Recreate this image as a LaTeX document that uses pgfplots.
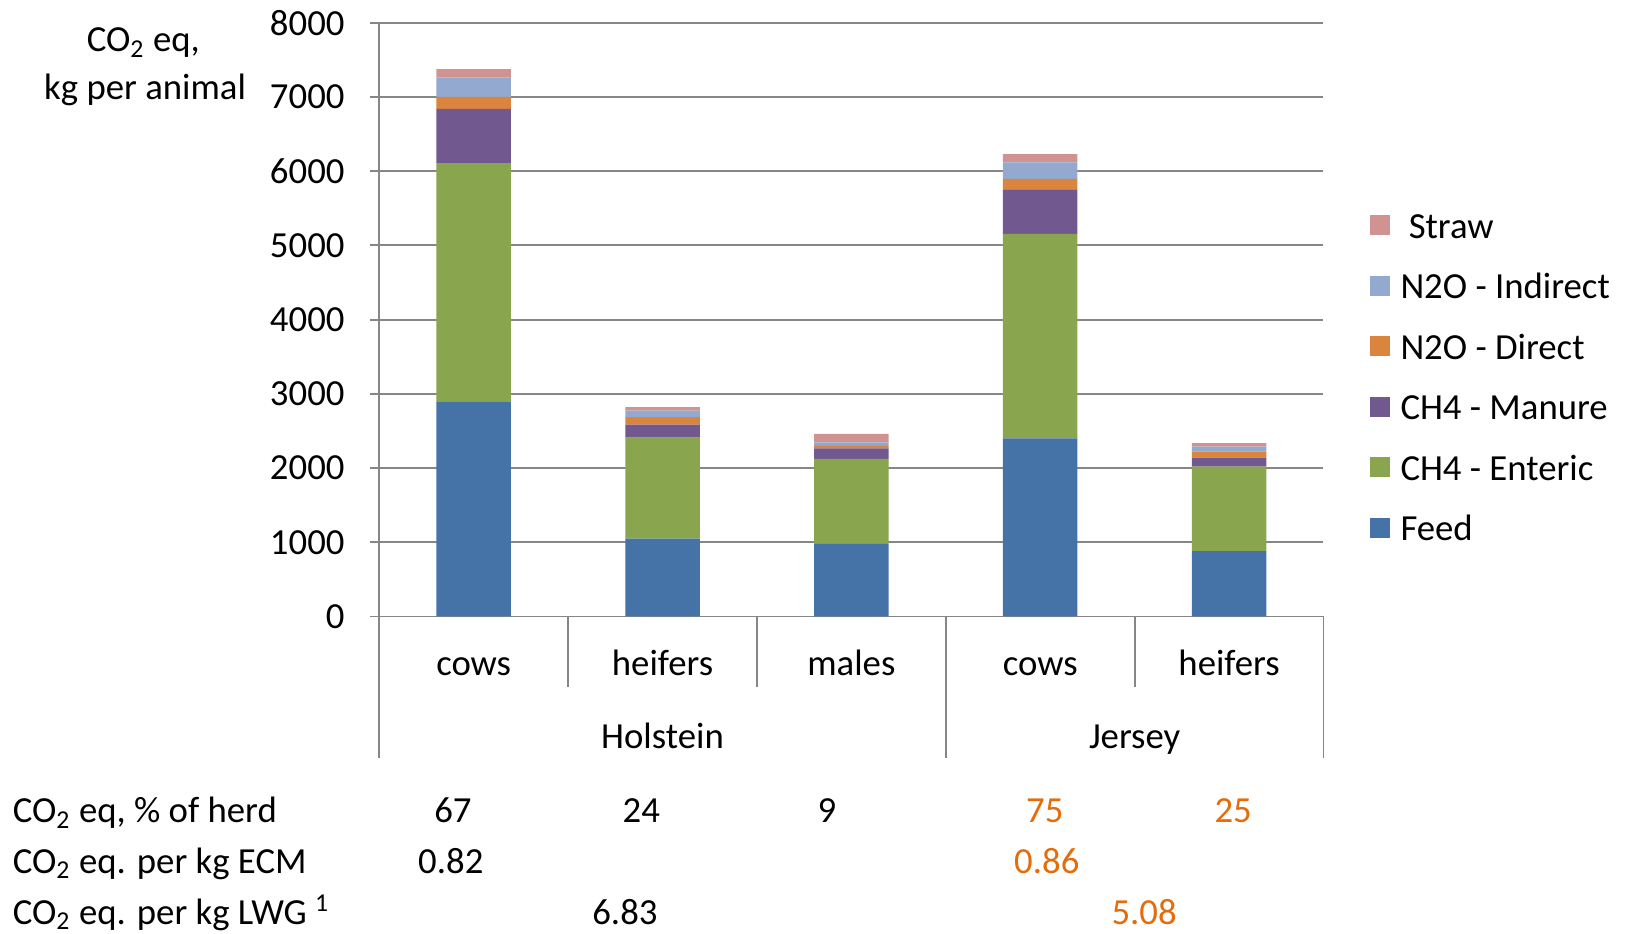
\documentclass[border=0pt]{standalone}
\usepackage{pgfplots}
\pgfplotsset{compat=1.18}
\usepackage{pgfplotstable}
\usepackage{fontspec}
\setmainfont{Carlito}

\definecolor{feed}{HTML}{4572A7}
\definecolor{enteric}{HTML}{89A54E}
\definecolor{manure}{HTML}{71588F}
\definecolor{ndirect}{HTML}{DB843D}
\definecolor{nindirect}{HTML}{93A9CF}
\definecolor{straw}{HTML}{D19392}
\definecolor{gridgray}{HTML}{868686}
\definecolor{jersey}{HTML}{E46C0A}

% CO2 eq per animal (kg) by source; 0-2 Holstein cows/heifers/males, 3-4 Jersey cows/heifers
\pgfplotstableread{
cat feed enteric manure ndir nind straw
0   2900 3210    730    160  265  110
1   1050 1360    175    100  90   45
2   980  1145    140    35   45   115
3   2400 2755    600    140  225  110
4   880  1140    120    80   70   45
}\emissions

\begin{document}
\begin{tikzpicture}[font=\fontsize{14.7pt}{17.6pt}\selectfont]
\useasboundingbox (-151.7pt,-127.0pt) rectangle (498.3pt,246.6pt);
\begin{axis}[
  at={(0,0)}, anchor=south west,
  scale only axis, width=377.7pt, height=237.5pt,
  xmin=-0.5, xmax=4.5, ymin=0, ymax=8000,
  ybar stacked, bar width=29.8pt,
  clip=false,
  axis x line=bottom, axis y line=left,
  axis line style={gridgray, line width=0.75pt, -},
  xtick=\empty,
  ytick={0,1000,2000,3000,4000,5000,6000,7000,8000},
  yticklabels={0,1000,2000,3000,4000,5000,6000,7000,8000},
  tick align=outside, major tick length=3.7pt,
  y tick style={gridgray, line width=0.75pt},
  yticklabel style={inner sep=0pt, xshift=-10pt},
  ymajorgrids, grid style={gridgray, line width=0.75pt},
  reverse legend,
  legend cell align=left,
  legend style={draw=none, fill=none, inner sep=0pt,
    at={(1.0482,0.680)}, anchor=north west,
    row sep=11.2pt,
    nodes={inner sep=0pt, text height=10pt, text depth=3pt}},
  legend image code/.code={%
    \fill[#1] (0pt,-2.3pt) rectangle (8pt,5.7pt);
    \path (12.4pt,0pt);},
]
\addplot[fill=feed, draw=none] table[x=cat, y=feed]{\emissions};
\addlegendentry{Feed}
\addplot[fill=enteric, draw=none] table[x=cat, y=enteric]{\emissions};
\addlegendentry{CH4 - Enteric}
\addplot[fill=manure, draw=none] table[x=cat, y=manure]{\emissions};
\addlegendentry{CH4 - Manure}
\addplot[fill=ndirect, draw=none] table[x=cat, y=ndir]{\emissions};
\addlegendentry{N2O - Direct}
\addplot[fill=nindirect, draw=none] table[x=cat, y=nind]{\emissions};
\addlegendentry{N2O - Indirect}
\addplot[fill=straw, draw=none] table[x=cat, y=straw]{\emissions};
\addlegendentry{\ Straw}

% category frame below the axis
\draw[gridgray, line width=0.75pt]
  (axis cs:0.5,0) -- (axis cs:0.5,-950)
  (axis cs:1.5,0) -- (axis cs:1.5,-950)
  (axis cs:3.5,0) -- (axis cs:3.5,-950)
  (axis cs:-0.5,0) -- (axis cs:-0.5,-1900)
  (axis cs:2.5,0) -- (axis cs:2.5,-1900)
  (axis cs:4.5,0) -- (axis cs:4.5,-1900);

\node[anchor=base] at (axis cs:0,-796) {cows};
\node[anchor=base] at (axis cs:1,-796) {heifers};
\node[anchor=base] at (axis cs:2,-796) {males};
\node[anchor=base] at (axis cs:3,-796) {cows};
\node[anchor=base] at (axis cs:4,-796) {heifers};
\node[anchor=base] at (axis cs:1,-1774) {Holstein};
\node[anchor=base] at (axis cs:3.5,-1774) {Jersey};

% y-axis title
\node[anchor=base] at (axis cs:-1.749,7611) {CO\textsubscript{2} eq,};
\node[anchor=base] at (axis cs:-1.74,6960) {kg per animal};

% summary rows
\node[anchor=base west, inner sep=0pt] at (axis cs:-2.443,-2780) {CO\textsubscript{2} eq, \% of herd};
\node[anchor=base west, inner sep=0pt] at (axis cs:-2.443,-3464) {CO\textsubscript{2} eq. per kg ECM};
\node[anchor=base west, inner sep=0pt] at (axis cs:-2.443,-4148) {CO\textsubscript{2} eq. per kg LWG \textsuperscript{1}};

\node[anchor=base] at (axis cs:-0.110,-2780) {67};
\node[anchor=base] at (axis cs:0.888,-2780) {24};
\node[anchor=base] at (axis cs:1.871,-2780) {9};
\node[anchor=base, text=jersey] at (axis cs:3.024,-2780) {75};
\node[anchor=base, text=jersey] at (axis cs:4.022,-2780) {25};
\node[anchor=base] at (axis cs:-0.121,-3464) {0.82};
\node[anchor=base, text=jersey] at (axis cs:3.035,-3464) {0.86};
\node[anchor=base] at (axis cs:0.801,-4148) {6.83};
\node[anchor=base, text=jersey] at (axis cs:3.55,-4148) {5.08};
\end{axis}
\end{tikzpicture}
\end{document}
